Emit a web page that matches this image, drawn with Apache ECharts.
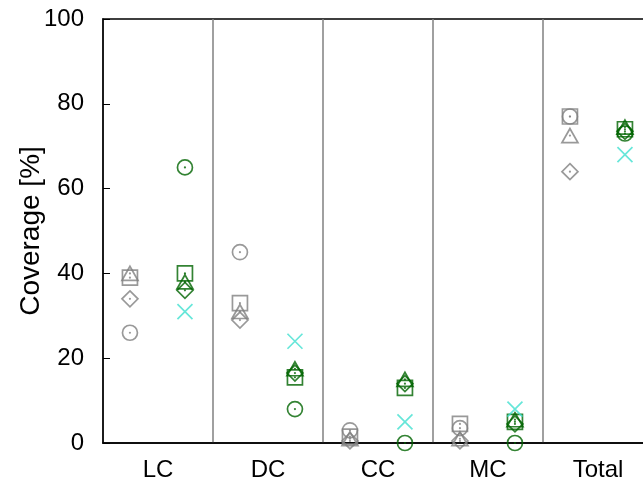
<!DOCTYPE html>
<html><head><meta charset="utf-8">
<script src="https://cdn.jsdelivr.net/npm/echarts@6/dist/echarts.min.js"></script>
<style>html,body{margin:0;padding:0;background:#fff}#c{width:643px;height:483px}</style>
</head><body><div id="c"></div>
<script>
const categories = ['LC','DC','CC','MC','Total'];
const yTicks = [0,20,40,60,80,100];
const grayCircle   = [26, 45, 3,   3.5, 77];
const graySquare   = [39, 33, 1.5, 4.5, 77];
const grayTriangle = [40, 31, 1,   1,   72.5];
const grayDiamond  = [34, 29, 0.5, 0.5, 64];
const greenCircle   = [65, 8,    0,  0,   73];
const greenSquare   = [40, 15.5, 13, 5,   74];
const greenTriangle = [38, 17.5, 15, 5.5, 74.5];
const greenDiamond  = [36, 16.5, 14, 4.5, 73.5];
const turquoiseX    = [31, 24,   5,  8,   68];

const GRAY = '#808080', GREEN = '#006400', TURQ = '#40e0d0';
const GRAY_OFF = 0.245, GREEN_OFF = 0.745;
const FONT = 'Liberation Sans';

function pts(vals, off){ return vals.map((v,i)=>[i+off, v]); }
function marker(vals, off, symbol, size, color, dot){
  const s = [{
    type:'scatter', xAxisIndex:1, yAxisIndex:0, data:pts(vals,off), symbol:symbol, symbolSize:size,
    itemStyle:{color:'rgba(0,0,0,0)', borderColor:color, borderWidth:1.7}, silent:true, z:3
  }];
  if (dot) s.push({
    type:'scatter', xAxisIndex:1, yAxisIndex:0, data:pts(vals,off), symbol:'circle', symbolSize:2.2,
    itemStyle:{color:color, borderWidth:0}, silent:true, z:4
  });
  return s;
}
const xPath = 'path://M0,0L10,10M10,0L0,10';
const series = [].concat(
  marker(grayCircle, GRAY_OFF, 'circle', 15, GRAY, true),
  marker(graySquare, GRAY_OFF, 'rect', 15, GRAY, true),
  marker(grayTriangle, GRAY_OFF, 'triangle', [16,14], GRAY, true),
  marker(grayDiamond, GRAY_OFF, 'diamond', 16, GRAY, true),
  marker(greenCircle, GREEN_OFF, 'circle', 15, GREEN, true),
  marker(greenSquare, GREEN_OFF, 'rect', 15, GREEN, true),
  marker(greenTriangle, GREEN_OFF, 'triangle', [16,14], GREEN, true),
  marker(greenDiamond, GREEN_OFF, 'diamond', 16, GREEN, true),
  marker(turquoiseX, GREEN_OFF, xPath, 15, TURQ, false)
);

const chart = echarts.init(document.getElementById('c'), null, {renderer:'canvas'});
chart.setOption({
  animation:false,
  backgroundColor:'#fff',
  grid:{left:103, width:550, top:19, height:424, outerBoundsMode:'none', containLabel:false,
        show:true, borderColor:'#000', borderWidth:1.5},
  xAxis:[
    {type:'category', data:categories, boundaryGap:true,
     axisLine:{show:true, lineStyle:{color:'#000', width:1.5}},
     axisTick:{show:false},
     axisLabel:{color:'#000', fontSize:24, fontFamily:FONT, margin:15},
     splitLine:{show:true, lineStyle:{color:GRAY, width:1.5}}},
    {type:'value', min:0, max:5, show:false}
  ],
  yAxis:[{type:'value', min:0, max:100, interval:20,
    name:'Coverage [%]', nameLocation:'middle', nameGap:58, nameRotate:90, nameMoveOverlap:false,
    nameTextStyle:{color:'#000', fontSize:28, fontFamily:FONT},
    axisLine:{show:true, lineStyle:{color:'#000', width:1.5}},
    axisTick:{show:true, inside:true, length:7, lineStyle:{color:'#000', width:1}},
    axisLabel:{color:'#000', fontSize:24, fontFamily:FONT, margin:19,
      formatter:v=>yTicks.includes(v)?String(v):''},
    splitLine:{show:false}}],
  series:series
});
</script></body></html>
